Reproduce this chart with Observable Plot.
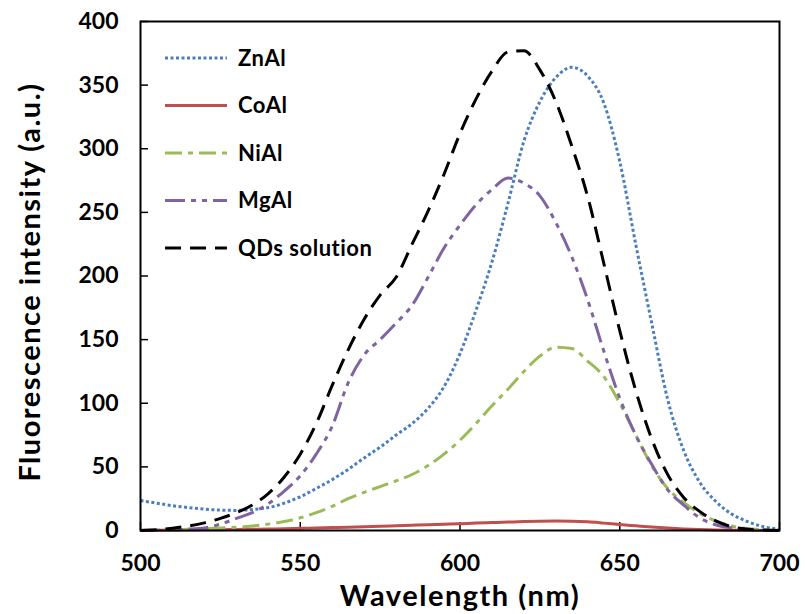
<!DOCTYPE html>
<html>
<head>
<meta charset="utf-8">
<script src="https://cdn.jsdelivr.net/npm/d3@7"></script>
<script src="https://cdn.jsdelivr.net/npm/@observablehq/plot@0.6"></script>
<style>
  html, body { margin: 0; padding: 0; background: #fff; }
  #chart { width: 805px; height: 614px; }
  .axis-title text { letter-spacing: 1.5px; }
</style>
</head>
<body>
<div id="chart"></div>
<script>
// Wavelength grid (nm)
const wavelength = [500,505,510,515,520,525,530,535,540,545,550,555,560,565,570,575,580,585,590,595,600,605,610,615,620,625,630,635,640,645,650,655,660,665,670,675,680,685,690,695,700];

const znAl = [23.5,21.5,19.5,18,16.8,16,15.8,16.5,18,21.5,26.5,33,40,48,57,65.5,75,84,96,113,139,173,211,257,306,337,356,364,357,336,290,225,163,103,63,38,23,13,7,3,1];
const coAl = [0,0.1,0.2,0.3,0.5,0.6,0.8,1,1.2,1.4,1.7,2,2.3,2.6,3,3.3,3.7,4.1,4.5,4.9,5.3,5.8,6.2,6.6,7,7.3,7.4,7.3,6.8,5.8,4.7,3.7,2.7,1.9,1.2,0.7,0.4,0.2,0.1,0,0];
const niAl = [0,0.2,0.5,1,1.5,2,2.5,3.5,5,7,10,14,19,25,30,34.5,39,44,51,60,71,84,98,111,125,137,144,143,133,121,100,75,51,33,22,13.5,7.5,3.5,1.5,0.5,0];
const mgAl = [0,0.2,0.5,1,2,5,9.5,14,21,31,43,60,82,116,138,150,163,177,199,222,240,256,268,277,273,263,242,215,181,141,104,75,52,32,20,10,4.5,2,0.5,0.2,0];
const qds  = [0,0.5,1.8,3.5,6,9.5,14,20,29,42,60,84,114,142,166,185,199,225,251,280,312,339,361,376,377,362,337,302,262,210,157,110,72,44,26,15,7.5,3,1,0.3,0];

const seriesNames = ["ZnAl","CoAl","NiAl","MgAl","QDs solution"];
const seriesValues = [znAl, coAl, niAl, mgAl, qds];
const seriesColors = ["#4a7ebf","#c0504d","#9bbb59","#8064a2","#000000"];
const seriesDash = ["3,2.5", null, "17,6,5,6", "20,6,5,6,5,6", "16,9"];

const xTicks = [500,550,600,650,700];
const yTicks = [0,50,100,150,200,250,300,350,400];

const FONT = "Lato, 'Open Sans', sans-serif";

const rows = seriesNames.map((name, i) =>
  wavelength.map((w, j) => ({series: name, x: w, y: seriesValues[i][j]})));

const lineMarks = seriesNames.map((name, i) =>
  Plot.line(rows[i], {
    x: "x", y: "y",
    stroke: seriesColors[i],
    strokeWidth: 3,
    strokeLinecap: "butt",
    strokeLinejoin: "round",
    strokeDasharray: seriesDash[i] || undefined,
    curve: "monotone-x"
  }));

const W = 805, H = 614;
const plot = Plot.plot({
  width: W,
  height: H,
  marginLeft: 140,
  marginRight: 26,
  marginTop: 21,
  marginBottom: 84,
  style: {fontFamily: FONT, fontWeight: "bold", fontSize: "23px", background: "#fff", color: "#000"},
  x: {domain: [500, 700], ticks: xTicks, label: null},
  y: {domain: [0, 400], ticks: yTicks, label: null},
  marks: [
    Plot.axisX({ticks: xTicks, tickSize: 0, tickPadding: 24, fontSize: 23, fontWeight: "bold", label: null}),
    Plot.axisY({ticks: yTicks, tickSize: 0, tickPadding: 22, fontSize: 23, fontWeight: "bold", label: null}),
    Plot.tickX(xTicks, {x: d => d, stroke: "#000", strokeWidth: 1.5, insetTop: 501}),
    Plot.tickY(yTicks, {y: d => d, stroke: "#000", strokeWidth: 1.5, insetRight: 631}),
    ...lineMarks,
    Plot.frame({stroke: "#000", strokeWidth: 2}),
    Plot.text(["Wavelength (nm)"], {frameAnchor: "bottom", dy: 66, textAnchor: "middle", lineAnchor: "middle", fontSize: 29, fontWeight: "bold", fill: "#000", className: "axis-title"}),
    Plot.text(["Fluorescence intensity (a.u.)"], {frameAnchor: "left", dx: -110, dy: 6, textAnchor: "middle", lineAnchor: "middle", rotate: -90, fontSize: 29, fontWeight: "bold", fill: "#000", className: "axis-title"})
  ]
});

document.getElementById("chart").appendChild(plot);

// Legend (inside the plot area, top-left)
const svg = d3.select(plot);
const lg = svg.append("g").attr("class", "legend");
const legendY0 = 58, legendStep = 47.5;
seriesNames.forEach((name, i) => {
  const y = legendY0 + i * legendStep;
  lg.append("line")
    .attr("x1", 165).attr("x2", 227).attr("y1", y).attr("y2", y)
    .attr("stroke", seriesColors[i]).attr("stroke-width", 3)
    .attr("stroke-linecap", "butt")
    .attr("stroke-dasharray", seriesDash[i] || null);
  lg.append("text")
    .attr("x", 238).attr("y", y).attr("dy", "0.36em")
    .attr("text-anchor", "start")
    .attr("font-family", FONT).attr("font-weight", "bold").attr("font-size", 22)
    .attr("letter-spacing", "0.5px")
    .attr("fill", "#000")
    .text(name);
});
</script>
</body>
</html>
